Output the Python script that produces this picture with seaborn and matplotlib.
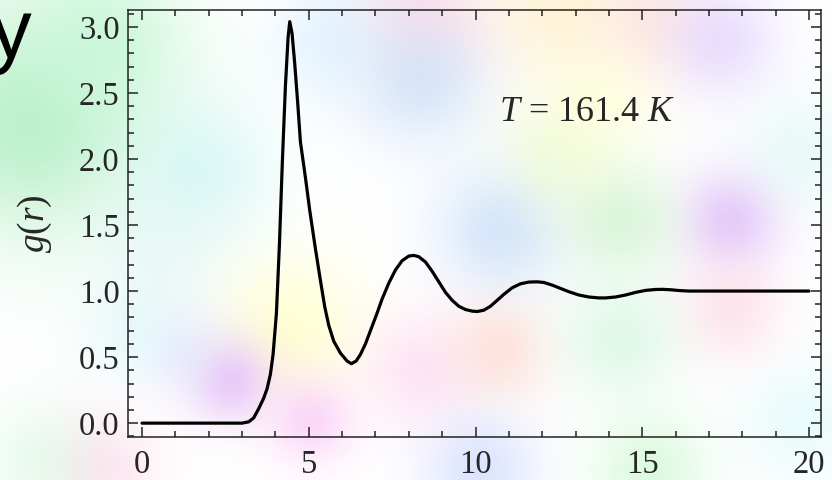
import numpy as np
import matplotlib
matplotlib.use("Agg")
import matplotlib.pyplot as plt
import seaborn as sns
from matplotlib.ticker import MultipleLocator

# ---- data ----
r_values = [0.0, 1.0, 2.0, 3.0, 3.2, 3.35, 3.5, 3.65, 3.75, 3.85, 3.93, 4.03,
            4.12, 4.21, 4.3, 4.38, 4.43, 4.5, 4.58, 4.67, 4.75, 4.9, 5.03,
            5.2, 5.35, 5.48, 5.6, 5.75, 5.95, 6.15, 6.28, 6.42, 6.55, 6.7,
            6.85, 7.03, 7.2, 7.4, 7.6, 7.8, 8.0, 8.15, 8.3, 8.5, 8.7, 8.9,
            9.1, 9.3, 9.5, 9.7, 9.9, 10.05, 10.25, 10.45, 10.65, 10.85,
            11.1, 11.35, 11.6, 11.85, 12.05, 12.3, 12.55, 12.8, 13.1, 13.4,
            13.7, 13.9, 14.2, 14.5, 14.8, 15.1, 15.4, 15.6, 15.85, 16.1,
            16.4, 17.0, 18.0, 19.0, 20.0]
g_values = [0.0, 0.0, 0.0, 0.0, 0.01, 0.04, 0.11, 0.19, 0.26, 0.37, 0.52, 0.83,
            1.35, 1.99, 2.55, 2.92, 3.04, 2.95, 2.72, 2.42, 2.13, 1.86, 1.61,
            1.32, 1.08, 0.88, 0.74, 0.62, 0.53, 0.47, 0.45, 0.47, 0.52, 0.6,
            0.7, 0.82, 0.94, 1.06, 1.16, 1.23, 1.265, 1.27, 1.26, 1.22, 1.15,
            1.07, 0.99, 0.93, 0.885, 0.86, 0.848, 0.845, 0.855, 0.885, 0.93,
            0.975, 1.025, 1.055, 1.068, 1.07, 1.065, 1.045, 1.02, 0.995, 0.97,
            0.955, 0.948, 0.948, 0.955, 0.97, 0.99, 1.005, 1.012, 1.013,
            1.01, 1.004, 1.0, 1.0, 1.0, 1.0, 1.0]
x_ticks = [0, 5, 10, 15, 20]
y_ticks = [0.0, 0.5, 1.0, 1.5, 2.0, 2.5, 3.0]
annotation = "$T$ = 161.4 $K$"

sns.set_theme(style="ticks")
plt.rcParams["font.family"] = ["Liberation Serif", "DejaVu Serif"]
plt.rcParams["mathtext.fontset"] = "custom"
plt.rcParams["mathtext.it"] = "Liberation Serif:italic"
plt.rcParams["mathtext.rm"] = "Liberation Serif"

W, H = 832, 480
fig = plt.figure(figsize=(W / 100, H / 100), dpi=100)

# ---- soft coloured background (decoration) ----
blobs = [
    (30, 120, 80, (0.72, 0.94, 0.78), 0.95),
    (100, 40, 60, (0.78, 0.97, 0.84), 0.8),
    (200, 170, 50, (0.78, 0.96, 0.95), 0.6),
    (160, 260, 50, (0.85, 0.95, 0.95), 0.4),
    (420, 20, 50, (1.0, 0.82, 0.88), 0.7),
    (560, 10, 50, (1.0, 0.94, 0.78), 0.7),
    (650, 20, 40, (1.0, 0.86, 0.83), 0.6),
    (420, 80, 45, (0.78, 0.88, 0.98), 0.7),
    (330, 40, 40, (0.83, 0.94, 1.0), 0.6),
    (720, 40, 40, (0.88, 0.82, 1.0), 0.7),
    (730, 220, 35, (0.88, 0.74, 0.98), 0.8),
    (500, 230, 45, (0.77, 0.86, 0.98), 0.7),
    (620, 220, 40, (0.80, 0.95, 0.80), 0.7),
    (560, 150, 40, (0.92, 0.98, 0.78), 0.6),
    (290, 330, 50, (1.0, 1.0, 0.76), 0.7),
    (230, 380, 30, (0.90, 0.74, 0.98), 0.8),
    (180, 350, 30, (0.86, 0.88, 1.0), 0.5),
    (310, 420, 30, (0.98, 0.78, 0.98), 0.7),
    (420, 370, 40, (1.0, 0.83, 0.94), 0.6),
    (500, 350, 35, (1.0, 0.83, 0.78), 0.6),
    (480, 470, 40, (0.78, 0.83, 1.0), 0.6),
    (650, 470, 40, (0.78, 0.97, 0.80), 0.6),
    (730, 310, 35, (1.0, 0.83, 0.88), 0.6),
    (620, 340, 40, (0.80, 0.96, 0.86), 0.6),
    (100, 470, 40, (1.0, 0.83, 0.91), 0.6),
    (40, 460, 40, (0.83, 0.98, 0.88), 0.5),
    (800, 150, 40, (0.83, 0.97, 0.95), 0.5),
    (800, 420, 40, (0.83, 0.97, 0.97), 0.5),
    (130, 330, 35, (0.86, 0.97, 0.97), 0.5),
    (600, 100, 40, (1.0, 1.0, 0.83), 0.6),
]
yy, xx = np.mgrid[0:H, 0:W]
img = np.ones((H, W, 3))
for bx, by, sig, col, s in blobs:
    w = s * np.exp(-((xx - bx) ** 2 + (yy - by) ** 2) / (2 * sig ** 2))
    img = img * (1 - w[..., None]) + np.array(col) * w[..., None]
bg = fig.add_axes([0, 0, 1, 1], zorder=0)
bg.imshow(img, aspect="auto", interpolation="bilinear")
bg.axis("off")

# ---- main axes ----
ax = fig.add_axes([128 / W, 1 - 437 / H, (821 - 128) / W, (437 - 10) / H], zorder=1)
ax.patch.set_alpha(0)
sns.lineplot(x=r_values, y=g_values, ax=ax, color="black", lw=2.3,
             estimator=None, sort=False)
ax.set_xlim(-0.42, 20.36)
ax.set_ylim(-0.105, 3.128)
ax.set_xticks(x_ticks)
ax.set_yticks(y_ticks)
ax.set_xticklabels([str(t) for t in x_ticks])
ax.set_yticklabels([f"{t:.1f}" for t in y_ticks])
ax.xaxis.set_minor_locator(MultipleLocator(1))
ax.yaxis.set_minor_locator(MultipleLocator(0.1))
ax.tick_params(which="both", direction="in", top=True, right=True,
               color="#222222", width=1.1)
ax.tick_params(which="major", length=7.5, labelsize=23.5)
ax.tick_params(which="minor", length=4.3)
ax.tick_params(axis="x", which="major", pad=9)
ax.tick_params(axis="y", which="major", pad=6)
for sp in ax.spines.values():
    sp.set_visible(True)
    sp.set_color("#222222")
    sp.set_linewidth(1.1)
ax.set_xlabel("")
ax.set_ylabel("$g(r)$", fontsize=27, labelpad=18)
ax.text(13.35, 2.35, annotation, fontsize=26, ha="center", va="center")

# partially visible slide title letter
fig.text(-0.012, 1 - 58 / H, "y", fontsize=60, family=["Liberation Sans", "DejaVu Sans"],
         ha="left", va="baseline", color="black")

fig.savefig("out.png", dpi=100)
